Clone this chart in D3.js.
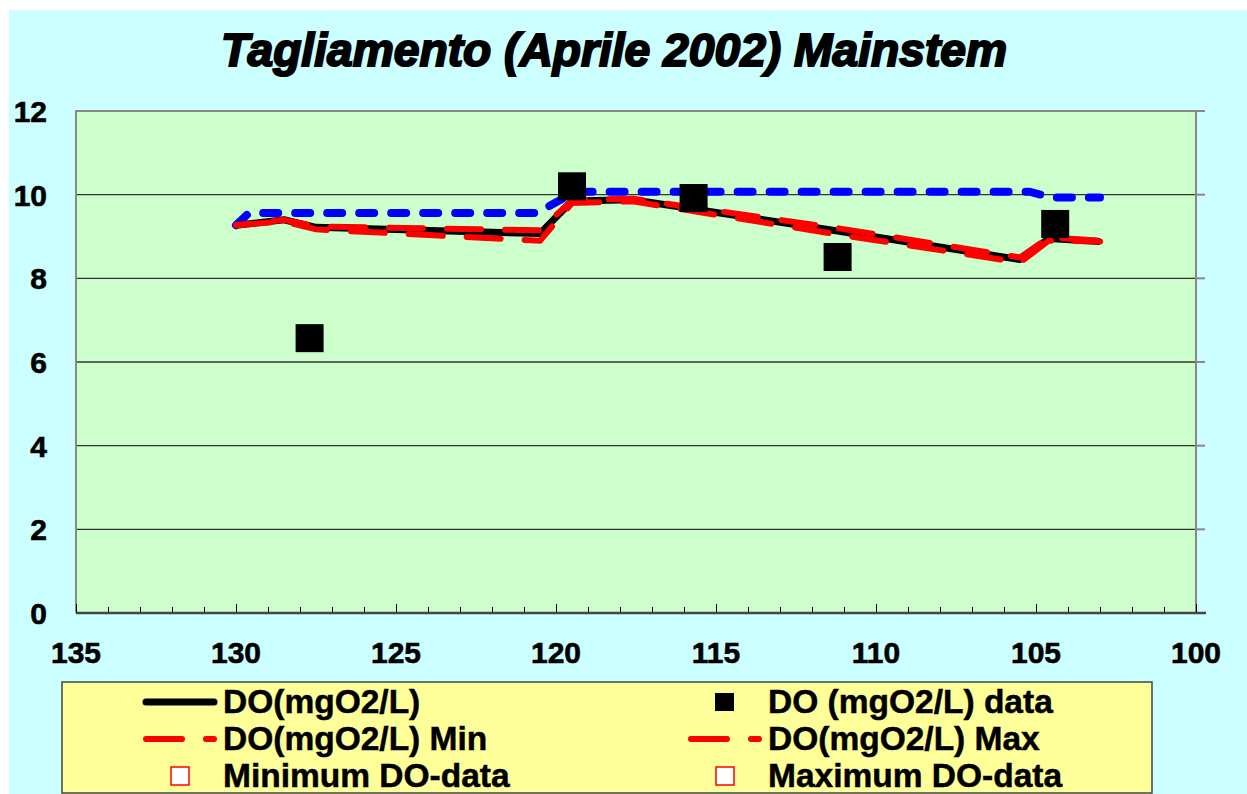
<!DOCTYPE html>
<html>
<head>
<meta charset="utf-8">
<script src="https://cdn.jsdelivr.net/npm/d3@7"></script>
<style>
  body { margin: 0; background: #fff; }
  svg { display: block; font-family: "Liberation Sans", Arial, sans-serif; }
</style>
</head>
<body>
<svg width="1247" height="794"></svg>
<script>
// river km (x) and dissolved oxygen values
const km     = [130, 128.5, 127.5, 120.5, 119.5, 117.6, 111.2, 105.5, 104.6, 103];
const doVals = [9.27, 9.40, 9.22, 9.07, 9.85, 9.88, 9.13, 8.45, 8.95, 8.88];
const doMin  = [9.27, 9.36, 9.17, 8.90, 9.80, 9.84, 9.05, 8.38, 8.90, 8.88];
const doMax  = [9.27, 9.40, 9.24, 9.15, 9.87, 9.90, 9.20, 8.50, 8.98, 8.90];

// blue dashed line (saturation), no legend entry
const satKm   = [130, 129.6, 120.6, 119.4, 105.2, 104.5, 103];
const satVals = [9.27, 9.56, 9.56, 10.07, 10.07, 9.93, 9.93];

// measured DO data
const dataKm   = [127.7, 119.5, 115.7, 111.2, 104.4];
const dataVals = [6.57, 10.2, 9.92, 8.51, 9.3];

const xTicks = [135, 130, 125, 120, 115, 110, 105, 100];
const yTicks = [0, 2, 4, 6, 8, 10, 12];

let svg = d3.select("svg");

// outer background
svg.append("rect")
  .attr("x", 9).attr("y", 10)
  .attr("width", 1238).attr("height", 784)
  .attr("fill", "#CCFFFF");

let pLeft = 76, pRight = 1196, pTop = 111, pBottom = 613;

let x = d3.scaleLinear().domain([135, 100]).range([pLeft, pRight]);
let y = d3.scaleLinear().domain([0, 12]).range([pBottom, pTop]);

// plot area
svg.append("rect")
  .attr("x", pLeft).attr("y", pTop)
  .attr("width", pRight - pLeft).attr("height", pBottom - pTop)
  .attr("fill", "#CCFFCC");

// gridlines
svg.append("g")
  .selectAll("line")
  .data(yTicks.filter(d => d > 0 && d < 12))
  .enter()
  .append("line")
  .attr("x1", pLeft).attr("x2", pRight)
  .attr("y1", d => y(d)).attr("y2", d => y(d))
  .attr("stroke", "#333")
  .attr("stroke-width", 1.3);

// frame: left, top, right in grey
svg.append("path")
  .attr("d", `M${pLeft},${pBottom}V${pTop}H${pRight}V${pBottom}`)
  .attr("fill", "none")
  .attr("stroke", "#888")
  .attr("stroke-width", 2);

// right axis outside ticks
svg.append("g")
  .selectAll("line")
  .data(yTicks)
  .enter()
  .append("line")
  .attr("x1", pRight).attr("x2", pRight + 9)
  .attr("y1", d => y(d)).attr("y2", d => y(d))
  .attr("stroke", "#888")
  .attr("stroke-width", 2);

// x axis with inside ticks
let xAxis = d3.axisTop(x)
  .tickValues(d3.range(100, 136, 1))
  .tickSize(6)
  .tickFormat("");
let gx = svg.append("g")
  .attr("transform", `translate(0,${pBottom})`)
  .call(xAxis);
gx.select(".domain").remove();
gx.selectAll(".tick line")
  .attr("stroke", "#000")
  .attr("stroke-width", 1)
  .attr("y2", d => d % 5 === 0 ? -9 : -6);

svg.append("line")
  .attr("x1", pLeft).attr("x2", pRight + 10)
  .attr("y1", pBottom).attr("y2", pBottom)
  .attr("stroke", "#444")
  .attr("stroke-width", 2.5);

// tick labels
svg.append("g")
  .selectAll("text")
  .data(xTicks)
  .enter()
  .append("text")
  .attr("x", d => x(d))
  .attr("y", 663)
  .attr("text-anchor", "middle")
  .attr("font-size", 30)
  .attr("font-weight", "bold")
  .attr("stroke", "#000")
  .attr("stroke-width", 0.6)
  .text(d => d);

svg.append("g")
  .selectAll("text")
  .data(yTicks)
  .enter()
  .append("text")
  .attr("x", 47)
  .attr("y", d => y(d) + 11)
  .attr("text-anchor", "end")
  .attr("font-size", 30)
  .attr("font-weight", "bold")
  .attr("stroke", "#000")
  .attr("stroke-width", 0.6)
  .text(d => d);

// title
svg.append("text")
  .attr("x", 614)
  .attr("y", 66)
  .attr("text-anchor", "middle")
  .attr("font-size", 46)
  .attr("font-weight", "bold")
  .attr("font-style", "italic")
  .attr("stroke", "#000")
  .attr("stroke-width", 2)
  .attr("textLength", 786)
  .attr("lengthAdjust", "spacingAndGlyphs")
  .text("Tagliamento (Aprile 2002) Mainstem");

// lines
let line = d3.line().x(d => x(d[0])).y(d => y(d[1]));
let plot = svg.append("g");

plot.append("path")
  .datum(satKm.map((k, i) => [k, satVals[i]]))
  .attr("d", line)
  .attr("fill", "none")
  .attr("stroke", "#0000FF")
  .attr("stroke-width", 8)
  .attr("stroke-linecap", "round")
  .attr("stroke-dasharray", "15,17");

plot.append("path")
  .datum(km.map((k, i) => [k, doVals[i]]))
  .attr("d", line)
  .attr("fill", "none")
  .attr("stroke", "#000")
  .attr("stroke-width", 7)
  .attr("stroke-linejoin", "round");

plot.append("path")
  .datum(km.map((k, i) => [k, doMin[i]]))
  .attr("d", line)
  .attr("fill", "none")
  .attr("stroke", "#FF0000")
  .attr("stroke-width", 6)
  .attr("stroke-linecap", "round")
  .attr("stroke-dasharray", "34,24");

plot.append("path")
  .datum(km.map((k, i) => [k, doMax[i]]))
  .attr("d", line)
  .attr("fill", "none")
  .attr("stroke", "#FF0000")
  .attr("stroke-width", 6)
  .attr("stroke-linecap", "round")
  .attr("stroke-dasharray", "34,24")
  .attr("stroke-dashoffset", 20);

// data squares
plot.selectAll(".pt")
  .data(dataKm.map((k, i) => [k, dataVals[i]]))
  .enter()
  .append("rect")
  .attr("class", "pt")
  .attr("x", d => x(d[0]) - 14)
  .attr("y", d => y(d[1]) - 14)
  .attr("width", 28)
  .attr("height", 28)
  .attr("fill", "#000");

// legend
let lg = svg.append("g");
lg.append("rect")
  .attr("x", 62).attr("y", 682)
  .attr("width", 1090).attr("height", 111)
  .attr("fill", "#FFFF99")
  .attr("stroke", "#444")
  .attr("stroke-width", 1.5);

let legendItems = [
  {label: "DO(mgO2/L)", kind: "solid", col: 0, row: 0},
  {label: "DO (mgO2/L) data", kind: "square", col: 1, row: 0},
  {label: "DO(mgO2/L) Min", kind: "dash", col: 0, row: 1},
  {label: "DO(mgO2/L) Max", kind: "dash", col: 1, row: 1},
  {label: "Minimum DO-data", kind: "open", col: 0, row: 2},
  {label: "Maximum DO-data", kind: "open", col: 1, row: 2}
];
let colX = [143, 688], textX = [223, 768], rowY = [702, 739, 776];

legendItems.forEach(it => {
  let x0 = colX[it.col], cy = rowY[it.row];
  if (it.kind === "solid") {
    lg.append("line").attr("x1", x0 + 3).attr("x2", x0 + 71)
      .attr("y1", cy).attr("y2", cy)
      .attr("stroke", "#000").attr("stroke-width", 7).attr("stroke-linecap", "round");
  } else if (it.kind === "dash") {
    lg.append("line").attr("x1", x0 + 3).attr("x2", x0 + 71)
      .attr("y1", cy).attr("y2", cy)
      .attr("stroke", "#FF0000").attr("stroke-width", 6).attr("stroke-linecap", "round")
      .attr("stroke-dasharray", "36,24");
  } else if (it.kind === "square") {
    lg.append("rect").attr("x", x0 + 27).attr("y", cy - 9)
      .attr("width", 19).attr("height", 18).attr("fill", "#000");
  } else {
    lg.append("rect").attr("x", x0 + 28).attr("y", cy - 9)
      .attr("width", 18).attr("height", 18)
      .attr("fill", "#fff").attr("stroke", "#FF0000").attr("stroke-width", 1.5);
  }
  lg.append("text")
    .attr("x", textX[it.col])
    .attr("y", cy + 11)
    .attr("font-size", 33.5)
    .attr("font-weight", "bold")
    .attr("stroke", "#000")
    .attr("stroke-width", 0.5)
    .text(it.label);
});
</script>
</body>
</html>
